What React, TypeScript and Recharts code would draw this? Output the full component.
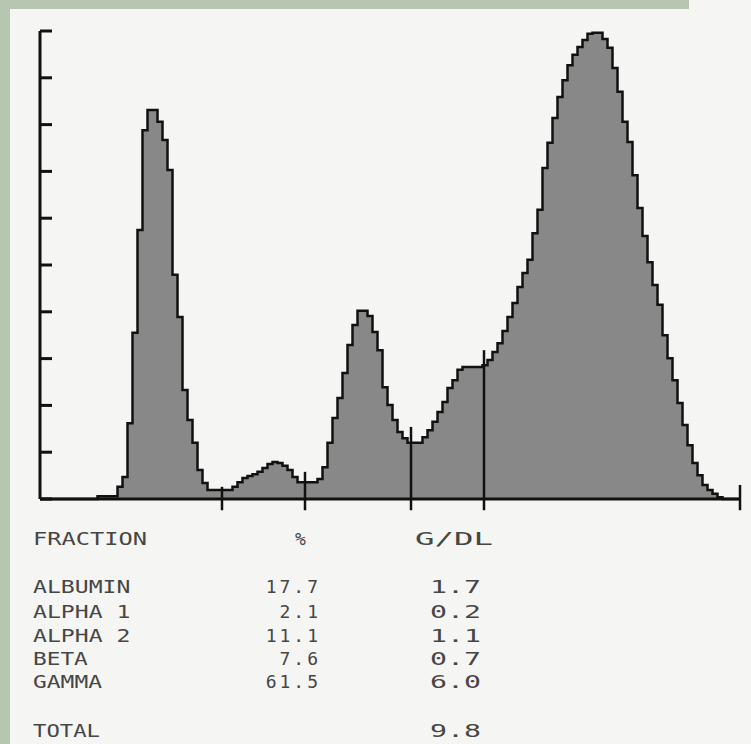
import React from 'react';
import { AreaChart, Area, XAxis, YAxis, ReferenceLine } from 'recharts';

// densitometer scan, one reading every scan step (0 = start, 140 = end)
const density = [
  0, 0, 0, 0, 0, 0, 0, 0, 0, 0, 0, 0, 0.6, 0.6, 0.6, 0.6, 2.6, 4.7, 16.2, 35.5,
  57.5, 78.8, 83.1, 83.1, 80.6, 76.7, 70.3, 47.9, 38.9, 23.3, 16.9, 12.0, 6.2, 3.4, 1.9, 1.9, 1.9, 1.9, 1.9, 2.6,
  3.6, 4.5, 4.9, 5.3, 5.8, 6.6, 7.5, 7.9, 7.7, 7.1, 6.2, 4.7, 3.6, 3.6, 3.6, 3.6, 4.3, 6.8, 12.0, 17.3,
  21.6, 26.9, 32.9, 37.2, 40.2, 40.2, 39.1, 35.7, 31.8, 23.9, 20.1, 16.9, 14.3, 13.0, 12.0, 12.0, 12.0, 13.2, 14.7, 16.5,
  18.6, 20.7, 23.7, 25.4, 27.6, 28.2, 28.2, 28.2, 28.2, 28.6, 29.7, 31.4, 33.3, 35.9, 38.9, 41.9, 45.3, 48.3, 51.1, 56.8,
  61.8, 70.7, 76.1, 81.4, 85.9, 89.5, 92.7, 94.9, 96.6, 98.1, 99.4, 99.6, 99.6, 98.3, 96.4, 92.1, 87.0, 80.6, 76.3, 69.2,
  62.2, 56.2, 50.6, 45.7, 41.5, 35.0, 30.1, 25.4, 20.5, 15.8, 11.5, 7.7, 5.1, 3.0, 1.9, 1.1, 0.4, 0, 0, 0, 0,
];

// fraction boundaries on the scan and the height their marks reach
const splitAt = [36.4, 53, 74.2, 88.8, 140];
const splitTop = [2.6, 5.8, 15.4, 31.8, 3.0];

const yTicks = [0, 10, 20, 30, 40, 50, 60, 70, 80, 90, 100];

const fractions = ['ALBUMIN', 'ALPHA 1', 'ALPHA 2', 'BETA', 'GAMMA'];
const percents = ['17.7', '2.1', '11.1', '7.6', '61.5'];
const gdl = ['1.7', '0.2', '1.1', '0.7', '6.0'];
const totalGdl = '9.8';

const data = density.map((v, i) => ({ pos: i, v }));

const ink = '#111';
const printColor = '#464646';
const font = '"DejaVu Sans Mono", monospace';

const rowY = [593, 618, 642, 665, 688];

// tick marks point into the plot, like the recorder's scale
const InnerTick = (props: any) => {
  const { x, y } = props;
  return <line x1={x} x2={x + 12} y1={y} y2={y} stroke={ink} strokeWidth={3} />;
};

export default function App() {
  return (
    <div style={{ position: 'absolute', left: 0, top: 0, width: 751, height: 744, background: '#b6c6b1', overflow: 'hidden' }}>
      <div style={{ position: 'absolute', left: 10, top: 9, width: 741, height: 735, background: '#f5f5f3' }} />
      <div style={{ position: 'absolute', left: 689, top: 0, width: 62, height: 9, background: '#f5f5f3' }} />
      <div style={{ position: 'absolute', left: 0, top: 0 }}>
        <AreaChart width={751} height={520} data={data} margin={{ top: 31, right: 11, bottom: 20, left: 40 }}>
          <XAxis
            dataKey="pos"
            type="number"
            domain={[0, 140]}
            height={1}
            tick={false}
            tickLine={false}
            axisLine={{ stroke: ink, strokeWidth: 3 }}
          />
          <YAxis
            type="number"
            domain={[0, 100]}
            ticks={yTicks}
            width={1}
            mirror
            tick={InnerTick}
            tickSize={0}
            tickMargin={0}
            tickLine={false}
            axisLine={{ stroke: ink, strokeWidth: 3 }}
          />
          <Area
            type="step"
            dataKey="v"
            stroke={ink}
            strokeWidth={2.5}
            fill="#888888"
            fillOpacity={1}
            isAnimationActive={false}
          />
          {splitAt.map((x, i) => (
            <ReferenceLine
              key={i}
              ifOverflow="visible"
              segment={[{ x, y: -2.4 }, { x, y: splitTop[i] }]}
              stroke={ink}
              strokeWidth={2.5}
            />
          ))}
        </AreaChart>
      </div>
      <svg width={751} height={744} style={{ position: 'absolute', left: 0, top: 0 }}>
        <g fontFamily={font} fontSize={18} fill={printColor}>
          <text x={33} y={545} textLength={114} lengthAdjust="spacingAndGlyphs">FRACTION</text>
          <text x={295} y={545}>%</text>
          <text x={415} y={545} textLength={78} lengthAdjust="spacingAndGlyphs">G/DL</text>
          {fractions.map((f, i) => (
            <text key={f} x={33} y={rowY[i]} textLength={f.length * 14.2 - 2} lengthAdjust="spacingAndGlyphs">{f}</text>
          ))}
          {percents.map((p, i) => (
            <text key={'p' + i} x={321} y={rowY[i]} textAnchor="end" letterSpacing={3}>{p}</text>
          ))}
          {gdl.map((g, i) => (
            <text key={'g' + i} x={430} y={rowY[i]} textLength={51} lengthAdjust="spacingAndGlyphs">{g}</text>
          ))}
          <text x={33} y={737} textLength={67} lengthAdjust="spacingAndGlyphs">TOTAL</text>
          <text x={430} y={737} textLength={51} lengthAdjust="spacingAndGlyphs">{totalGdl}</text>
        </g>
      </svg>
    </div>
  );
}
